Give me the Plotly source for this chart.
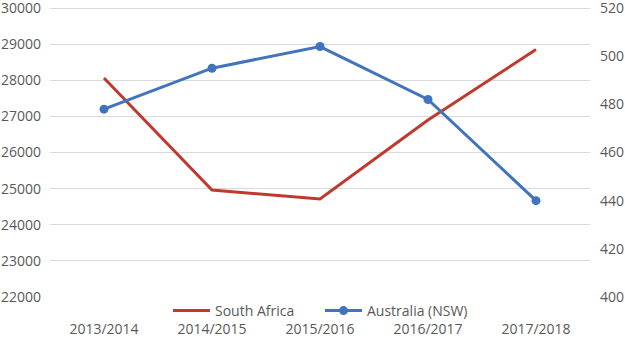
import plotly.graph_objects as go

years = ["2013/2014", "2014/2015", "2015/2016", "2016/2017", "2017/2018"]
south_africa = [28060, 24960, 24710, 26900, 28850]
australia_nsw = [478, 495, 504, 482, 440]

left_ticks = [22000, 23000, 24000, 25000, 26000, 27000, 28000, 29000, 30000]
right_ticks = [400, 420, 440, 460, 480, 500, 520]

RED = "#C0392F"
BLUE = "#4174BC"
GRID = "#D9D9D9"
TXT = "#595959"
FONT = "Open Sans"

fig = go.Figure()
fig.add_trace(go.Scatter(
    x=years, y=south_africa, name="South Africa", mode="lines",
    line=dict(color=RED, width=3), yaxis="y"))
fig.add_trace(go.Scatter(
    x=years, y=australia_nsw, name="Australia (NSW)", mode="lines+markers",
    line=dict(color=BLUE, width=3), marker=dict(color=BLUE, size=9),
    yaxis="y2"))

fig.update_layout(
    width=625, height=338,
    margin=dict(l=50, r=35, t=2, b=41, autoexpand=False),
    paper_bgcolor="white", plot_bgcolor="white",
    font=dict(family=FONT, size=14, color=TXT),
    showlegend=True,
    legend=dict(orientation="h", x=0.5, xanchor="center",
                yref="container", y=(338 - 311) / 338,
                yanchor="middle", font=dict(size=14, color=TXT),
                bgcolor="rgba(0,0,0,0)", tracegroupgap=0,
                itemwidth=37, entrywidth=100, entrywidthmode="pixels"),
    xaxis=dict(showgrid=False, showline=False, zeroline=False,
               ticks="", ticklabelstandoff=22, range=[-0.5, 4.5],
               automargin=False, ticklabeloverflow="allow",
               tickfont=dict(size=14, color=TXT)),
    yaxis=dict(range=[21999, 30166], tickvals=left_ticks, tickformat="d",
               showgrid=True, gridcolor=GRID, gridwidth=1,
               zeroline=False, showline=False, ticks="",
               ticklabelstandoff=8, automargin=False,
               ticklabeloverflow="allow",
               tickfont=dict(size=14, color=TXT)),
    yaxis2=dict(range=[399.985, 522.49], tickvals=right_ticks, overlaying="y",
                side="right", showgrid=False, zeroline=False, tickformat="d",
                showline=False, ticks="", ticklabelstandoff=9,
                automargin=False, ticklabeloverflow="allow",
                tickfont=dict(size=14, color=TXT)),
)

fig.write_html("out.html")
